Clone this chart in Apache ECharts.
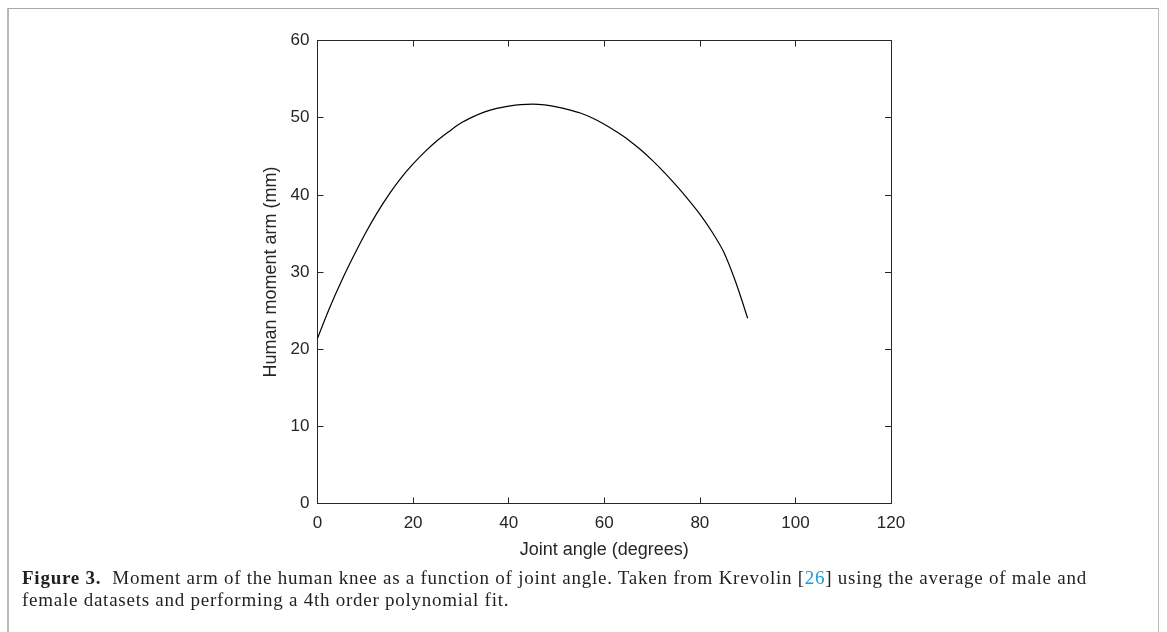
<!DOCTYPE html>
<html>
<head>
<meta charset="utf-8">
<script src="https://cdn.jsdelivr.net/npm/echarts@6/dist/echarts.min.js"></script>
<style>
  html, body { margin: 0; padding: 0; background: #fff; }
  #wrap { position: relative; width: 1167px; height: 632px; overflow: hidden; }
  #frame { position: absolute; left: 7px; top: 8px; width: 1149px; height: 700px;
           border-left: 2px solid #b8b8b8; border-top: 1px solid #a8a8a8; border-right: 1px solid #b8b8b8; }
  #chart { position: absolute; left: 0; top: 0; width: 1167px; height: 632px; }
  #caption { position: absolute; left: 22px; top: 567px; width: 1125px; white-space: nowrap;
             font-family: "Liberation Serif", "DejaVu Serif", serif; font-size: 19px; line-height: 22px;
             letter-spacing: 0.75px; color: #231f20; }
  #caption b { font-weight: bold; }
  #caption .ref { color: #1a9bd7; }
</style>
</head>
<body>
<div id="wrap">
  <div id="frame"></div>
  <div id="chart"></div>
  <div id="caption"><b>Figure 3.</b>&nbsp;&nbsp;Moment arm of the human knee as a function of joint angle. Taken from Krevolin [<span class="ref">26</span>] using the average of male and<br>female datasets and performing a 4th order polynomial fit.</div>
</div>
<script>
// Joint angle (degrees)
const jointAngle = [0, 2.5, 5, 7.5, 10, 12.5, 15, 17.5, 20, 22.5, 25, 27.5, 30, 32.5, 35, 37.5, 40, 42.5, 45,
                    47.5, 50, 52.5, 55, 57.5, 60, 62.5, 65, 67.5, 70, 72.5, 75, 77.5, 80, 82.5, 85, 87.5, 90];
// Human moment arm (mm)
const momentArm = [21.4, 25.3, 28.8, 32.0, 35.0, 37.7, 40.1, 42.2, 44.0, 45.6, 47.0, 48.2, 49.3, 50.1, 50.75, 51.2, 51.5, 51.7, 51.75,
                   51.65, 51.4, 51.05, 50.6, 49.95, 49.15, 48.2, 47.15, 45.9, 44.5, 42.95, 41.25, 39.45, 37.5, 35.25, 32.6, 28.7, 24.0];
const xTicks = [0, 20, 40, 60, 80, 100, 120];
const yTicks = [0, 10, 20, 30, 40, 50, 60];

const axisColor = '#262626';
const labelFont = { fontFamily: 'Liberation Sans, Arial, sans-serif', fontSize: 17, color: '#262626' };
const nameFont = { fontFamily: 'Liberation Sans, Arial, sans-serif', fontSize: 18, color: '#262626' };

const chart = echarts.init(document.getElementById('chart'), null, { renderer: 'canvas' });
function axisBase(extra) {
  return Object.assign({
    type: 'value',
    axisLine: { show: true, onZero: false, lineStyle: { color: axisColor, width: 1 } },
    axisTick: { show: true, inside: true, length: 6, lineStyle: { color: axisColor } },
    splitLine: { show: false }
  }, extra);
}
const xRange = { min: xTicks[0], max: xTicks[xTicks.length - 1], interval: xTicks[1] - xTicks[0] };
const yRange = { min: yTicks[0], max: yTicks[yTicks.length - 1], interval: yTicks[1] - yTicks[0] };

chart.setOption({
  animation: false,
  grid: { left: 317.5, top: 40.5, right: 276, bottom: 128.5, containLabel: false },
  xAxis: [
    axisBase(Object.assign({
      position: 'bottom',
      name: 'Joint angle (degrees)', nameLocation: 'middle', nameGap: 38, nameTextStyle: nameFont,
      axisLabel: Object.assign({ margin: 11 }, labelFont)
    }, xRange)),
    axisBase(Object.assign({ position: 'top', axisLabel: { show: false } }, xRange))
  ],
  yAxis: [
    axisBase(Object.assign({
      position: 'left',
      name: 'Human moment arm (mm)', nameLocation: 'middle', nameGap: 37, nameTextStyle: nameFont,
      axisLabel: Object.assign({ margin: 8 }, labelFont)
    }, yRange)),
    axisBase(Object.assign({ position: 'right', axisLabel: { show: false } }, yRange))
  ],
  series: [{
    type: 'line',
    xAxisIndex: 0, yAxisIndex: 0,
    data: jointAngle.map((x, i) => [x, momentArm[i]]),
    smooth: 0.3,
    showSymbol: false,
    lineStyle: { color: '#000', width: 1.2 }
  }]
});
</script>
</body>
</html>
